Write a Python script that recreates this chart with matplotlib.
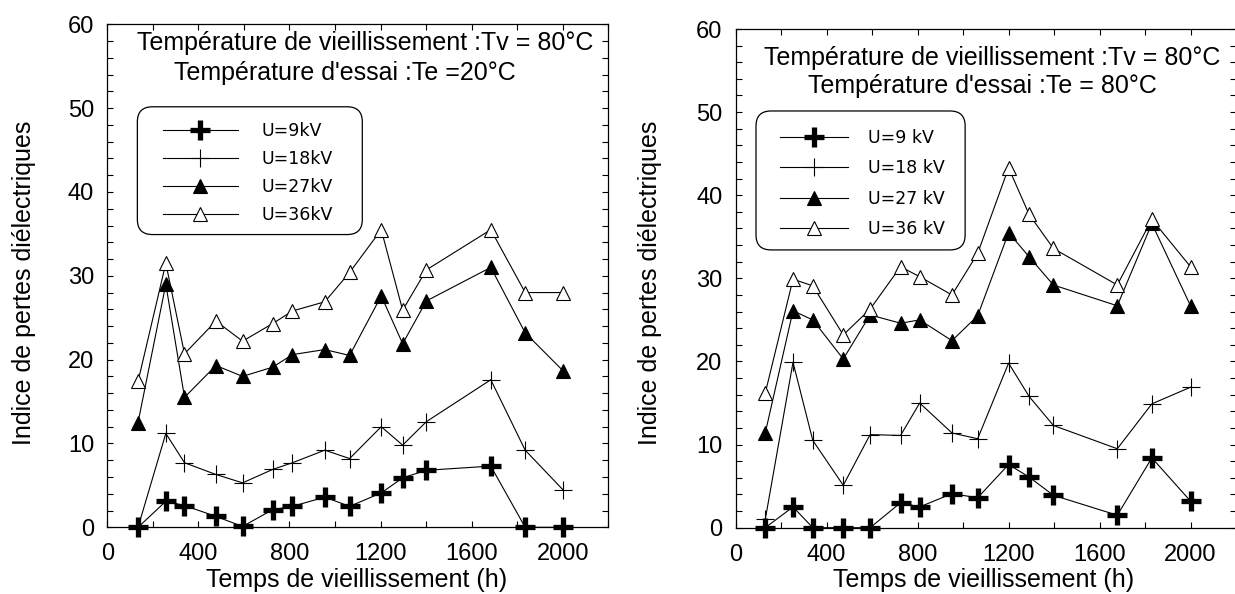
import matplotlib
matplotlib.use("Agg")
import matplotlib.pyplot as plt
from matplotlib.patches import FancyBboxPatch
from matplotlib.ticker import MultipleLocator

plt.rcParams['font.family'] = ['Liberation Sans', 'DejaVu Sans']
LEG_FONT = ['DejaVu Sans']

# ---------------- data ----------------
series_labels_L = ["U=9kV", "U=18kV", "U=27kV", "U=36kV"]
series_labels_R = ["U=9 kV", "U=18 kV", "U=27 kV", "U=36 kV"]

time_L = [135, 257, 339, 477, 594, 726, 813, 955, 1064, 1203, 1297, 1401, 1684, 1835, 2000]
u9_L = [0, 3.1, 2.6, 1.3, 0.1, 2.1, 2.5, 3.6, 2.5, 4.1, 5.9, 6.8, 7.3, 0, 0]
u18_L = [0, 11.2, 7.7, 6.3, 5.3, 6.9, 7.7, 9.2, 8.2, 12.0, 9.8, 12.6, 17.6, 9.2, 4.5]
u27_L = [12.5, 29.0, 15.5, 19.3, 18.0, 19.1, 20.6, 21.2, 20.5, 27.6, 21.9, 27.0, 31.0, 23.2, 18.7]
u36_L = [17.4, 31.5, 20.7, 24.6, 22.2, 24.3, 25.8, 26.9, 30.4, 35.5, 25.9, 30.7, 35.5, 28.0, 28.0]

time_R = [130, 252, 339, 473, 591, 725, 809, 951, 1064, 1200, 1290, 1397, 1678, 1830, 2000]
u9_R = [0, 2.5, 0, 0, 0, 3.0, 2.5, 4.1, 3.6, 7.6, 6.1, 3.9, 1.5, 8.4, 3.2]
u18_R = [1.0, 19.9, 10.5, 5.1, 11.2, 11.1, 15.0, 11.4, 10.7, 19.8, 15.8, 12.3, 9.5, 14.9, 16.9]
u27_R = [11.4, 26.1, 25.0, 20.3, 25.6, 24.6, 25.0, 22.5, 25.5, 35.5, 32.6, 29.2, 26.7, 36.6, 26.7]
u36_R = [16.2, 29.9, 29.1, 23.2, 26.3, 31.4, 30.2, 28.0, 33.0, 43.3, 37.7, 33.6, 29.2, 37.1, 31.4]

title_L = ["Température de vieillissement :Tv = 80°C", "Température d'essai :Te =20°C"]
title_R = ["Température de vieillissement :Tv = 80°C", "Température d'essai :Te = 80°C"]
xlabel = "Temps de vieillissement (h)"
ylabel = "Indice de pertes diélectriques"

# ---------------- figure ----------------
W, H = 1235, 594
fig = plt.figure(figsize=(W / 100, H / 100), dpi=100)


def box(x0, y0, x1, y1):
    return [x0 / W, 1 - y1 / H, (x1 - x0) / W, (y1 - y0) / H]


axL = fig.add_axes(box(107.3, 24.3, 608.3, 527.3))
axR = fig.add_axes(box(735.7, 29.0, 1236.0, 527.7))

styles = [
    dict(marker='+', markersize=14, markeredgewidth=3.8, color='black'),
    dict(marker='+', markersize=13, markeredgewidth=0.8, color='black'),
    dict(marker='^', markersize=10.5, markeredgewidth=0.8, color='black',
         markerfacecolor='black'),
    dict(marker='^', markersize=10.5, markeredgewidth=0.8, color='black',
         markerfacecolor='white'),
]


def setup(ax):
    ax.set_xlim(0, 2200)
    ax.set_ylim(0, 60)
    ax.xaxis.set_major_locator(MultipleLocator(400))
    ax.xaxis.set_minor_locator(MultipleLocator(200))
    ax.yaxis.set_major_locator(MultipleLocator(10))
    ax.yaxis.set_minor_locator(MultipleLocator(2))
    ax.set_xticks([0, 400, 800, 1200, 1600, 2000])
    ax.tick_params(which='both', direction='in', top=True, right=True,
                   length=6 * 0.72, width=0.8, color='black')
    ax.tick_params(axis='x', which='major', labelsize=17, pad=11.5)
    ax.tick_params(axis='y', which='major', labelsize=17, pad=9.5)
    for sp in ax.spines.values():
        sp.set_linewidth(0.9)


def draw(ax, t, ys, labels):
    handles = []
    for y, st, lab in zip(ys, styles, labels):
        ln, = ax.plot(t, y, linewidth=0.8, clip_on=False, label=lab, **st)
        handles.append(ln)
    return handles


setup(axL)
setup(axR)

hL = draw(axL, time_L, [u9_L, u18_L, u27_L, u36_L], series_labels_L)
hR = draw(axR, time_R, [u9_R, u18_R, u27_R, u36_R], series_labels_R)

# titles inside
tkw = dict(ha='center', va='center', fontsize=18)
axL.text(0.515, 0.963, title_L[0], transform=axL.transAxes, **tkw)
axL.text(0.474, 0.903, title_L[1], transform=axL.transAxes, **tkw)
axR.text(0.5136, 0.942, title_R[0], transform=axR.transAxes, **tkw)
axR.text(0.493, 0.886, title_R[1], transform=axR.transAxes, **tkw)

# legends
lkw = dict(loc='upper left', borderaxespad=0, borderpad=0, frameon=False,
           prop={'family': LEG_FONT, 'size': 12.5})
axL.legend(handles=hL, bbox_to_anchor=(0.111, 0.806),
           handlelength=4.3, handletextpad=1.38, labelspacing=0.58, **lkw)
axR.legend(handles=hR, bbox_to_anchor=(0.0886, 0.7995),
           handlelength=3.9, handletextpad=1.15, labelspacing=0.72, **lkw)

for ax, (x0, y0, x1, y1) in [(axL, (0.060, 0.582, 0.509, 0.836)),
                             (axR, (0.0406, 0.557, 0.4586, 0.8356))]:
    p = FancyBboxPatch((x0, y0), x1 - x0, y1 - y0,
                       boxstyle="round,pad=0,rounding_size=0.03",
                       transform=ax.transAxes, facecolor='none',
                       edgecolor='black', linewidth=0.9, zorder=1.5)
    ax.add_patch(p)

# axis labels
fig.text(357 / W, 1 - 580 / H, xlabel, **tkw)
fig.text(983.7 / W, 1 - 580 / H, xlabel, **tkw)
fig.text(24 / W, 1 - 283 / H, ylabel, rotation=90, **tkw)
fig.text(650 / W, 1 - 283 / H, ylabel, rotation=90, **tkw)

fig.savefig("out.png", dpi=100)
